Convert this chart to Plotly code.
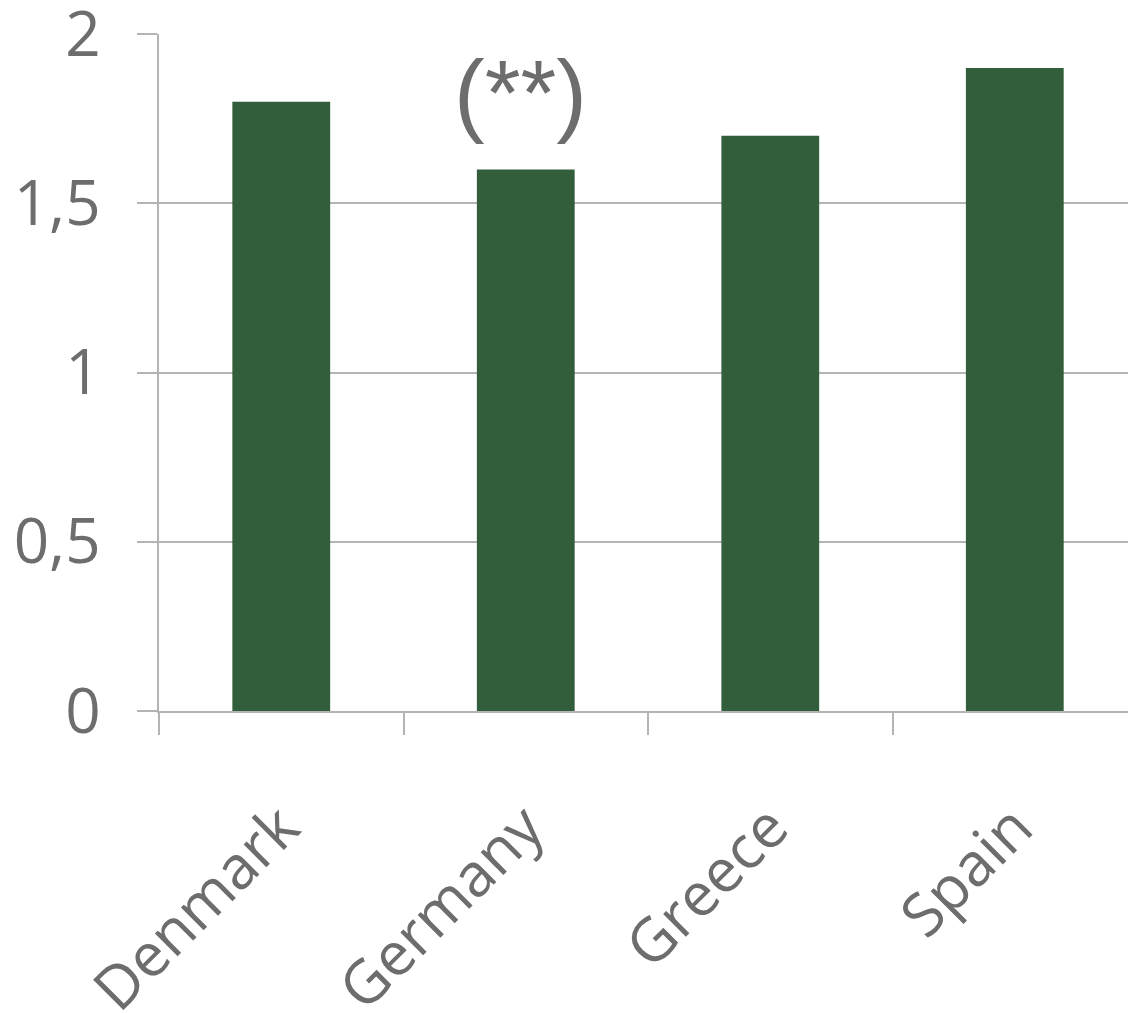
import plotly.graph_objects as go

countries = ["Denmark", "Germany", "Greece", "Spain"]
values = [1.8, 1.6, 1.7, 1.9]
y_ticks = [0, 0.5, 1, 1.5, 2]
y_tick_labels = ["0", "0,5", "1", "1,5", "2"]
note_country = "Germany"
note_text = "(**)"

BAR = "#335E3C"
TXT = "#6d6d6d"
GRID = "#b4b4b4"
FONT = "Open Sans"

fig = go.Figure()
fig.add_trace(go.Bar(x=countries, y=values, marker=dict(color=BAR, line=dict(width=0)),
                     width=0.4, hoverinfo="skip"))

fig.add_annotation(x=note_country, y=values[countries.index(note_country)],
                   text=note_text, showarrow=False, yanchor="bottom", yshift=24,
                   xshift=-5,
                   font=dict(family="Liberation Sans", size=92, color=TXT))

fig.update_layout(
    width=1128, height=1013,
    margin=dict(l=159, r=0, t=34, b=302, pad=0, autoexpand=False),
    paper_bgcolor="white", plot_bgcolor="white",
    showlegend=False,
    font=dict(family=FONT, color=TXT),
)
fig.update_xaxes(
    type="category", range=[-0.5, 3.463], automargin=False,
    showline=True, linecolor=GRID, linewidth=2,
    ticks="outside", tickson="boundaries", ticklen=22, tickcolor=GRID, tickwidth=2,
    tickangle=-45, tickfont=dict(family=FONT, size=60, color=TXT),
    showgrid=False, ticklabelstandoff=55, ticklabeloverflow="allow",
)
fig.update_yaxes(
    range=[0, 2.0005], tickvals=y_ticks, ticktext=y_tick_labels, automargin=False,
    showline=True, linecolor=GRID, linewidth=2,
    ticks="outside", ticklen=20, tickcolor=GRID, tickwidth=2,
    showgrid=True, gridcolor=GRID, gridwidth=2, zeroline=False,
    tickfont=dict(family=FONT, size=62, color=TXT), ticklabelstandoff=24,
    ticklabeloverflow="allow",
)

fig.write_html("out.html", config={"displayModeBar": False},
               post_script="document.body.style.margin='0';document.documentElement.style.overflow='hidden';")
